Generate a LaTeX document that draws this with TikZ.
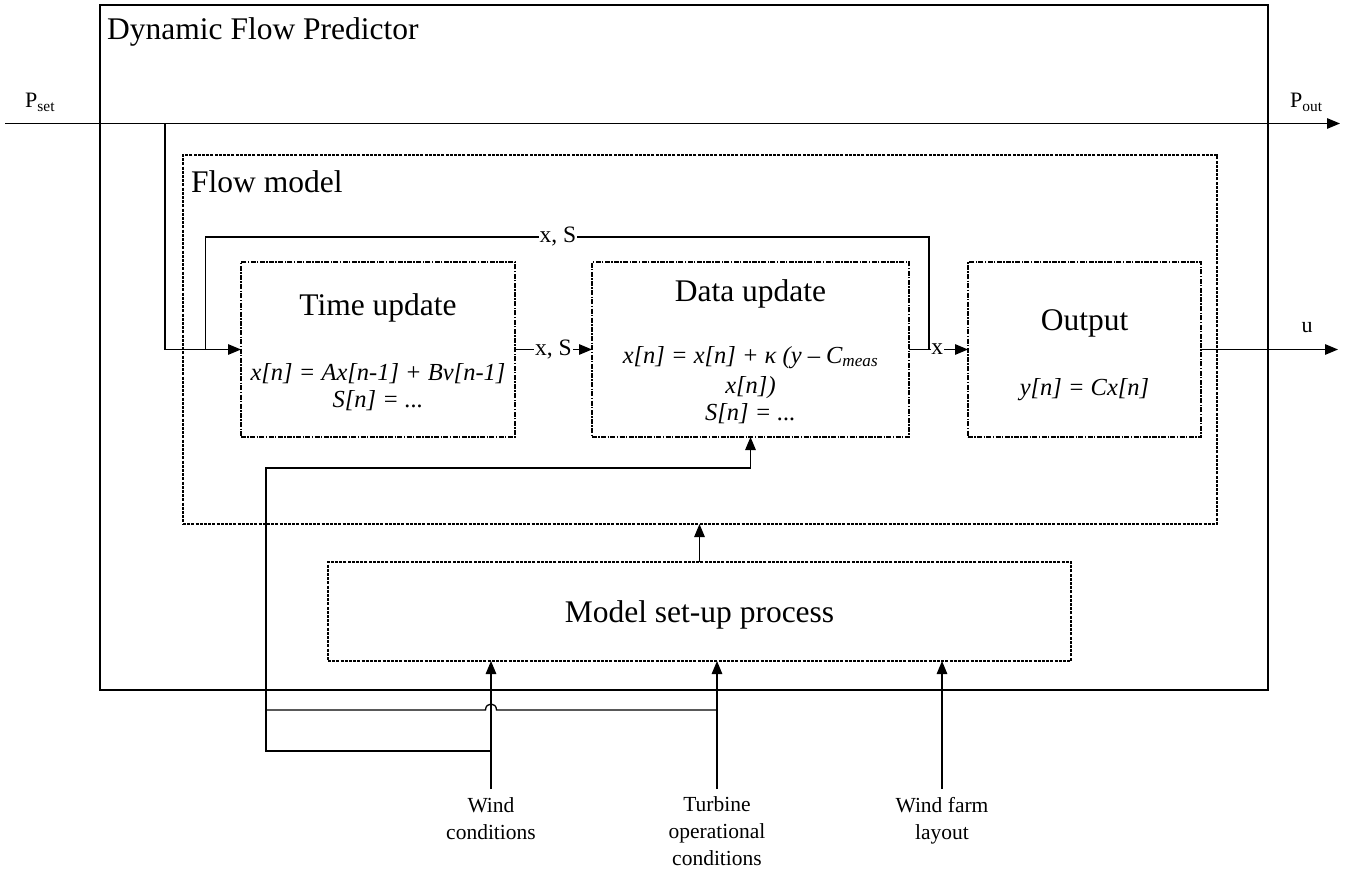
\documentclass[tikz,border=0pt]{standalone}
\usepackage{fontspec}
\setmainfont{Liberation Serif}
\usetikzlibrary{arrows.meta}
\begin{document}
\begin{tikzpicture}[x=1pt,y=-1pt,
  outerbox/.style={draw, line width=1.8pt, inner sep=0pt, outer sep=0pt},
  flowbox/.style={draw, line width=1.5pt, dash pattern=on 3pt off 1.2pt, inner sep=0pt, outer sep=0pt},
  stepbox/.style={draw, line width=1.2pt, dash pattern=on 5pt off 1.4pt on 1.4pt off 1.4pt, inner sep=0pt, outer sep=0pt},
  conn/.style={line width=1.3pt},
  arr/.style={conn, -{Triangle[length=13pt,width=10.5pt]}},
  bigtxt/.style={font=\fontsize{31.5}{36}\selectfont, inner sep=0pt},
  eqtxt/.style={font=\fontsize{24.5}{27.5}\selectfont\itshape, inner sep=0pt},
  lab/.style={font=\fontsize{23.5}{26}\selectfont, fill=white, inner sep=0.8pt},
  ptxt/.style={font=\fontsize{22}{24}\selectfont, inner sep=0pt},
  smalltxt/.style={font=\fontsize{21.5}{27}\selectfont, inner sep=0pt, align=center},
]
\useasboundingbox (0,0) rectangle (1354,874);
\fill[white] (0,0) rectangle (1354,874);

% boxes
\node[outerbox, minimum width=1168pt, minimum height=685pt] (dfp) at (684,347.5) {};
\node[bigtxt, anchor=base west] (dfpt) at (107,40) {Dynamic Flow Predictor};
\node[flowbox, minimum width=1034pt, minimum height=369pt] (flow) at (700,339.5) {};
\node[bigtxt, anchor=base west] (flowt) at (191,193) {Flow model};
\node[stepbox, minimum width=274pt, minimum height=175pt] (time) at (378,349.5) {};
\node[stepbox, minimum width=317pt, minimum height=175pt] (data) at (750.5,349.5) {};
\node[stepbox, minimum width=233pt, minimum height=175pt] (out) at (1084.5,349.5) {};
\node[flowbox, minimum width=743pt, minimum height=99pt] (setup) at (699.5,611.5) {};

% box texts
\node[bigtxt, anchor=base] (timet) at (378,316) {Time update};
\node[eqtxt, anchor=base] (timee1) at (378,381) {x[n] = Ax[n-1] + Bv[n-1]};
\node[eqtxt, anchor=base] (timee2) at (378,407) {S[n] = ...};
\node[bigtxt, anchor=base] (datat) at (750.5,302) {Data update};
\node[eqtxt, anchor=base] (datae1) at (750.5,363) {x[n] = x[n] + κ (y – C\textsubscript{meas}};
\node[eqtxt, anchor=base] (datae2) at (750.5,393) {x[n])};
\node[eqtxt, anchor=base] (datae3) at (750.5,420) {S[n] = ...};
\node[bigtxt, anchor=base] (outt) at (1084.5,331) {Output};
\node[eqtxt, anchor=base] (oute) at (1084.5,395) {y[n] = Cx[n]};
\node[bigtxt, anchor=base] (setupt) at (699.5,622) {Model set-up process};

% power line
\coordinate (pin) at (5,123.5);
\coordinate (pout) at (1340,123.5);
\draw[arr] (pin) -- (pout);
\node[ptxt, anchor=base west] (pset) at (25,108) {P\textsubscript{set}};
\node[ptxt, anchor=base west] (poutl) at (1290,108) {P\textsubscript{out}};
\coordinate (br) at (165,123.5);
\draw[arr] (br) |- (time.west);

% chain
\draw[arr] (time.east) -- node[lab] (xs2) {x, S} (data.west);
\draw[arr] (data.east) -- node[lab, pos=0.48] (x3) {x} (out.west);
\coordinate (uend) at (1338,349.5);
\draw[arr] (out.east) -- (uend);
\node[ptxt, anchor=base] (ul) at (1307,333) {u};

% feedback
\coordinate (fbA) at (205.5,349.5);
\coordinate (fbB) at (205.5,237);
\coordinate (fbC) at (929,237);
\coordinate (fbD) at (929,349.5);
\draw[conn] (fbA) -- (fbB) -- (fbC) -- (fbD);
\node[lab] (xs1) at (558,237) {x, S};

% setup to flow model
\draw[arr] (setup.north) -- (setup.north |- flow.south);

% inputs
\coordinate (win) at (491,789);
\coordinate (tin) at (717,789);
\coordinate (fin) at (942,789);
\draw[arr] (win) -- (win |- setup.south);
\draw[arr] (tin) -- (tin |- setup.south);
\draw[arr] (fin) -- (fin |- setup.south);

% bypass to data update
\coordinate (wj) at (491,751);
\coordinate (tj) at (717,710);
\coordinate (cA) at (266,710);
\coordinate (cB) at (266,751);
\coordinate (cC) at (266,468);
\coordinate (hopR) at (496.5,710);
\coordinate (hopL) at (485.5,710);
\draw[conn] (tj) -- (hopR) .. controls (496.5,702) and (485.5,702) .. (hopL) -- (cA);
\draw[arr] (wj) -- (cB) -- (cC) -| (data.south);

% input labels
\node[smalltxt, anchor=north] (wl) at (491,797) {Wind\\conditions};
\node[smalltxt, anchor=north] (tl) at (717,796) {Turbine\\operational\\conditions};
\node[smalltxt, anchor=north] (fl) at (942,797) {Wind farm\\layout};
\end{tikzpicture}
\end{document}
